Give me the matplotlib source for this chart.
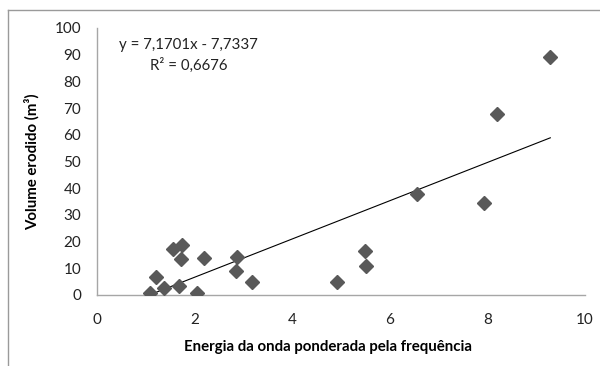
import matplotlib
matplotlib.use('Agg')
import matplotlib.pyplot as plt
from matplotlib.lines import Line2D
import numpy as np

# energia da onda ponderada pela frequência vs volume erodido
energia = [1.09, 1.22, 1.38, 1.56, 1.74, 1.72, 1.69, 2.06, 2.20, 2.87, 2.85, 3.19,
           4.92, 5.50, 5.52, 6.56, 7.94, 8.20, 9.29]
volume = [0.7, 6.9, 2.5, 17.1, 18.7, 13.4, 3.5, 0.6, 13.7, 14.1, 9.1, 5.0,
          4.7, 16.6, 11.0, 37.7, 34.3, 67.7, 89.0]

# linha de tendência (como mostrada no gráfico)
slope = 7.1701
intercept = -7.7337
r2 = 0.6676

x_ticks = [0, 2, 4, 6, 8, 10]
y_ticks = [0, 10, 20, 30, 40, 50, 60, 70, 80, 90, 100]

plt.rcParams['font.family'] = ['Lato', 'DejaVu Sans']

fig = plt.figure(figsize=(6, 3.66), dpi=100)
ax = fig.add_axes([0.161, 0.194, 0.814, 0.7295])

ax.plot(energia, volume, linestyle='none', marker='D', markersize=7,
        color='#595959', zorder=3)

xs = np.array([min(energia), max(energia)])
ax.plot(xs, slope * xs + intercept, color='black', linewidth=0.8, zorder=2)

ax.set_xlim(0, 10)
ax.set_ylim(0, 100)
ax.set_xticks(x_ticks)
ax.set_yticks(y_ticks)
ax.tick_params(axis='both', length=0, labelsize=11, colors='#222222')
ax.tick_params(axis='x', pad=13)
ax.tick_params(axis='y', pad=11)

for s in ['top', 'right']:
    ax.spines[s].set_visible(False)
for s in ['left', 'bottom']:
    ax.spines[s].set_color('#a6a6a6')
    ax.spines[s].set_linewidth(1.0)

ax.set_xlabel('Energia da onda ponderada pela frequência', fontsize=10.8,
              fontweight='bold')
ax.set_ylabel('Volume erodido (m³)', fontsize=10.8, fontweight='bold')
ax.xaxis.set_label_coords(0.474, -0.17)
ax.yaxis.set_label_coords(-0.116, 0.5)

eq = f'y = {slope:.4f}x - {abs(intercept):.4f}'.replace('.', ',')
rr = f'R² = {r2:.4f}'.replace('.', ',')
ax.text(1.88, 93.6, eq, ha='center', va='center', fontsize=10.8, color='#222222')
ax.text(1.88, 86.1, rr, ha='center', va='center', fontsize=10.8, color='#222222')

# borda da área do gráfico
fig.add_artist(Line2D([8 / 600, 8 / 600], [0, 1 - 10 / 366], transform=fig.transFigure,
                      color='#9a9a9a', linewidth=1.0))
fig.add_artist(Line2D([8 / 600, 1], [1 - 10 / 366, 1 - 10 / 366], transform=fig.transFigure,
                      color='#9a9a9a', linewidth=1.0))

fig.savefig('out.png', dpi=100)
